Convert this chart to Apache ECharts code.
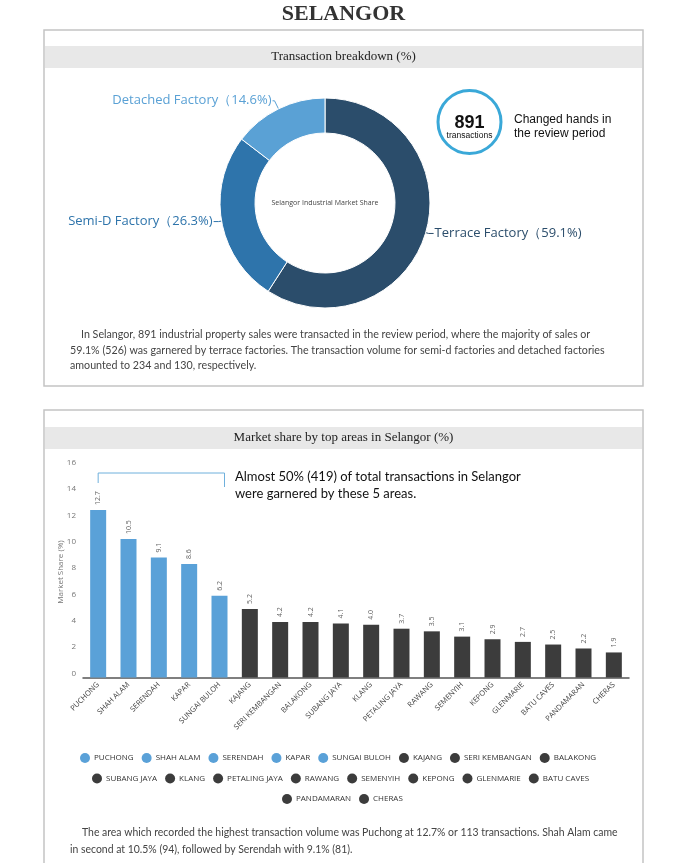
<!DOCTYPE html>
<html>
<head>
<meta charset="utf-8">
<script src="https://cdn.jsdelivr.net/npm/echarts@6/dist/echarts.min.js"></script>
<style>
html,body{margin:0;padding:0;background:#fff;}
#c{width:698px;height:863px;}
</style>
</head>
<body>
<div id="c"></div>
<script>
// ---------- data ----------
const pageTitle = 'SELANGOR';
const panel1Title = 'Transaction breakdown (%)';
const panel2Title = 'Market share by top areas in Selangor (%)';
const pieNames = ['Terrace Factory', 'Semi-D Factory', 'Detached Factory'];
const pieValues = [59.1, 26.3, 14.6];
const pieCenterText = 'Selangor Industrial Market Share';
const totalTransactions = '891';
const areaNames = ['PUCHONG', 'SHAH ALAM', 'SERENDAH', 'KAPAR', 'SUNGAI BULOH', 'KAJANG', 'SERI KEMBANGAN', 'BALAKONG', 'SUBANG JAYA', 'KLANG', 'PETALING JAYA', 'RAWANG', 'SEMENYIH', 'KEPONG', 'GLENMARIE', 'BATU CAVES', 'PANDAMARAN', 'CHERAS'];
const areaShares = [12.7, 10.5, 9.1, 8.6, 6.2, 5.2, 4.2, 4.2, 4.1, 4.0, 3.7, 3.5, 3.1, 2.9, 2.7, 2.5, 2.2, 1.9];
const topAreaCount = 5;
const yTicks = {min: 0, max: 16, interval: 2};
const para1 = [
  'In Selangor, 891 industrial property sales were transacted in the review period, where the majority of sales or',
  '59.1% (526) was garnered by terrace factories. The transaction volume for semi-d factories and detached factories',
  'amounted to 234 and 130, respectively.'
];
const para2 = [
  'The area which recorded the highest transaction volume was Puchong at 12.7% or 113 transactions. Shah Alam came',
  'in second at 10.5% (94), followed by Serendah with 9.1% (81).'
];
const noteLines = ['Almost 50% (419) of total transactions in Selangor', 'were garnered by these 5 areas.'];
const legendRows = [[0, 8], [8, 16], [16, 18]];

// ---------- style ----------
const pieColors = ['#2b4d6b', '#2e74ab', '#5aa1d5'];
const pieLineLen = [[3, 5], [3, 5], [9, 2]];
const blue = '#5aa1d8';
const dark = '#3c3c3c';
const sans = '"Open Sans", "Noto Sans", sans-serif';
const serif = '"Liberation Serif", serif';
const legendLefts = [75, 87, 277];

const chart = echarts.init(document.getElementById('c'), null, {renderer: 'canvas'});

const barSeries = areaNames.map((n, i) => ({
  name: n,
  type: 'bar',
  stack: 'all',
  barWidth: 16,
  itemStyle: {color: i < topAreaCount ? blue : dark},
  data: areaShares.map((v, j) => (j === i ? v : '-')),
  label: {
    show: true, position: 'top', rotate: 90, align: 'left', verticalAlign: 'middle',
    distance: 5, fontSize: 7, color: '#666', fontFamily: sans,
    formatter: p => Number(p.value).toFixed(1)
  }
}));

const legends = legendRows.map((r, k) => ({
  data: areaNames.slice(r[0], r[1]),
  top: 748 + k * 20.5,
  left: legendLefts[k],
  orient: 'horizontal',
  icon: 'circle',
  itemWidth: 10, itemHeight: 10, itemGap: 8,
  textStyle: {fontSize: 8, color: '#333', fontFamily: sans, padding: [0, 0, 0, -1]},
  selectedMode: false
}));

function txt(text, x, y, font, fill, align) {
  return {type: 'text', silent: true, style: {text, x, y, font, fill, textAlign: align || 'left', textVerticalAlign: 'middle'}};
}

const graphics = [
  txt(pageTitle, 343.5, 14, 'bold 22px ' + serif, '#333', 'center'),
  {type: 'rect', silent: true, shape: {x: 44, y: 30, width: 599, height: 356}, style: {fill: 'none', stroke: '#c4c4c4', lineWidth: 1.5}},
  {type: 'rect', silent: true, shape: {x: 45, y: 46, width: 597, height: 22}, style: {fill: '#e8e8e8'}},
  txt(panel1Title, 343.5, 57, '13px ' + serif, '#222', 'center'),
  {type: 'rect', silent: true, shape: {x: 44, y: 410, width: 599, height: 470}, style: {fill: 'none', stroke: '#c4c4c4', lineWidth: 1.5}},
  {type: 'rect', silent: true, shape: {x: 45, y: 427, width: 597, height: 22}, style: {fill: '#e8e8e8'}},
  txt(panel2Title, 343.5, 438, '13px ' + serif, '#222', 'center'),
  // 891 circle
  {type: 'circle', silent: true, shape: {cx: 469.5, cy: 122, r: 31.5}, style: {fill: '#fff', stroke: '#3aa8d8', lineWidth: 3}},
  txt(totalTransactions, 469.5, 123, 'bold 18px "Liberation Sans", Arial, sans-serif', '#111', 'center'),
  txt('transactions', 469.5, 136, '8.5px "Liberation Sans", Arial, sans-serif', '#111', 'center'),
  txt('Changed hands in', 514, 120, '12px "Liberation Sans", Arial, sans-serif', '#111'),
  txt('the review period', 514, 134, '12px "Liberation Sans", Arial, sans-serif', '#111'),
  txt(pieCenterText, 325, 203, '7px ' + sans, '#444', 'center'),
  // note
  txt(noteLines[0], 235, 477, '13px Lato, sans-serif', '#111'),
  txt(noteLines[1], 235, 494, '13px Lato, sans-serif', '#111')
];
para1.forEach((l, i) => graphics.push(txt(l, i === 0 ? 81 : 70, 335 + i * 15.5, '10.7px Lato, sans-serif', '#444')));
para2.forEach((l, i) => graphics.push(txt(l, i === 0 ? 82 : 70, 833 + i * 17, '10.45px Lato, sans-serif', '#444')));

const option = {
  backgroundColor: '#fff',
  animation: false,
  graphic: graphics,
  legend: legends,
  grid: {left: 83, right: 69, top: 466.5, bottom: 185.5, containLabel: false},
  xAxis: {
    type: 'category', data: areaNames,
    axisLine: {show: true, lineStyle: {color: '#555', width: 1.5}},
    axisTick: {show: false},
    axisLabel: {interval: 0, rotate: 45, fontSize: 7.5, color: '#444', fontFamily: sans, margin: 6}
  },
  yAxis: {
    type: 'value', min: yTicks.min, max: yTicks.max, interval: yTicks.interval,
    name: 'Market Share (%)', nameLocation: 'middle', nameGap: 18, nameMoveOverlap: false,
    nameTextStyle: {fontSize: 8, color: '#777', fontFamily: sans},
    axisLine: {show: false}, axisTick: {show: false}, splitLine: {show: false},
    axisLabel: {fontSize: 8, color: '#777', fontFamily: sans, margin: 7, verticalAlign: 'bottom'}
  },
  series: [
    {
      type: 'pie', center: [325, 203], radius: [70, 105], startAngle: 90, clockwise: true,
      legendHoverLink: false,
      itemStyle: {borderColor: '#fff', borderWidth: 1},
      data: pieNames.map((n, i) => ({
        name: n, value: pieValues[i],
        itemStyle: {color: pieColors[i]},
        label: {color: pieColors[i]},
        labelLine: {length: pieLineLen[i][0], length2: pieLineLen[i][1], lineStyle: {color: pieColors[i], width: 1}}
      })),
      label: {show: true, position: 'outside', fontSize: 13, fontFamily: sans,
        formatter: p => p.name + '（' + p.value.toFixed(1) + '%)', distanceToLabelLine: 1},
      labelLine: {show: true, length: 3, length2: 5, smooth: false}
    }
  ].concat(barSeries)
};
chart.setOption(option);

// annotation bracket above top areas, anchored to the category positions
const xL = chart.convertToPixel({xAxisIndex: 0}, areaNames[0]);
const xR = chart.convertToPixel({xAxisIndex: 0}, areaNames[topAreaCount - 1]) + 5;
const g = graphics.slice();
g.push({type: 'polyline', silent: true, shape: {points: [[xL, 483], [xL, 473], [xR, 473], [xR, 487]]}, style: {stroke: '#6fb0dc', lineWidth: 1, fill: 'none'}});
chart.setOption({graphic: g});
</script>
</body>
</html>
